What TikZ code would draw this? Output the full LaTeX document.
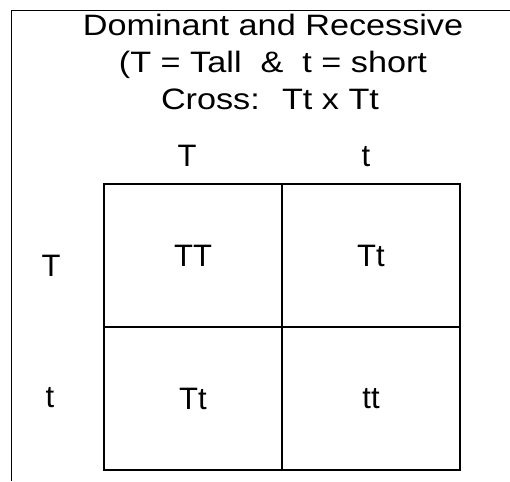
\documentclass[tikz,border=0pt]{standalone}
\usepackage{fontspec}
\setmainfont{Liberation Sans}
\usetikzlibrary{positioning}

\begin{document}
\begin{tikzpicture}[x=1pt,y=1pt,
    cell/.style={draw, line width=2.5pt, minimum width=178pt, minimum height=143pt,
      inner sep=0pt, outer sep=0pt, font=\fontsize{31}{31}\selectfont},
    allele/.style={font=\fontsize{31}{31}\selectfont, anchor=base},
    heading/.style={font=\fontsize{29.5}{29.5}\selectfont, anchor=base}]
            \useasboundingbox (0,0) rectangle (510,481);

            % frame
            \draw[line width=1pt] (11,0) -- (11,470) -- (510,470);

            % title
            \node[heading] (title) at (273,445) {\scalebox{1.16}[1]{Dominant and Recessive}};
            \node[heading] (key) at (273,408) {\scalebox{1.16}[1]{(T = Tall~ \&~ t = short}};
            \node[heading] (cross) at (270,371) {\scalebox{1.16}[1]{Cross:~ Tt x Tt}};

            % punnett square
            \node[cell] (TT) at (193,225.5) {TT};
            \node[cell, right=0pt of TT] (Tt1) {Tt};
            \node[cell, below=0pt of TT] (Tt2) {Tt};
            \node[cell, right=0pt of Tt2] (tt) {tt};

            % gametes
            \node[allele] (colT) at (187,314) {T};
            \node[allele] (colt) at (366,314) {t};
            \node[allele] (rowT) at (51,204) {T};
            \node[allele] (rowt) at (50,73) {t};
\end{tikzpicture}
\end{document}
